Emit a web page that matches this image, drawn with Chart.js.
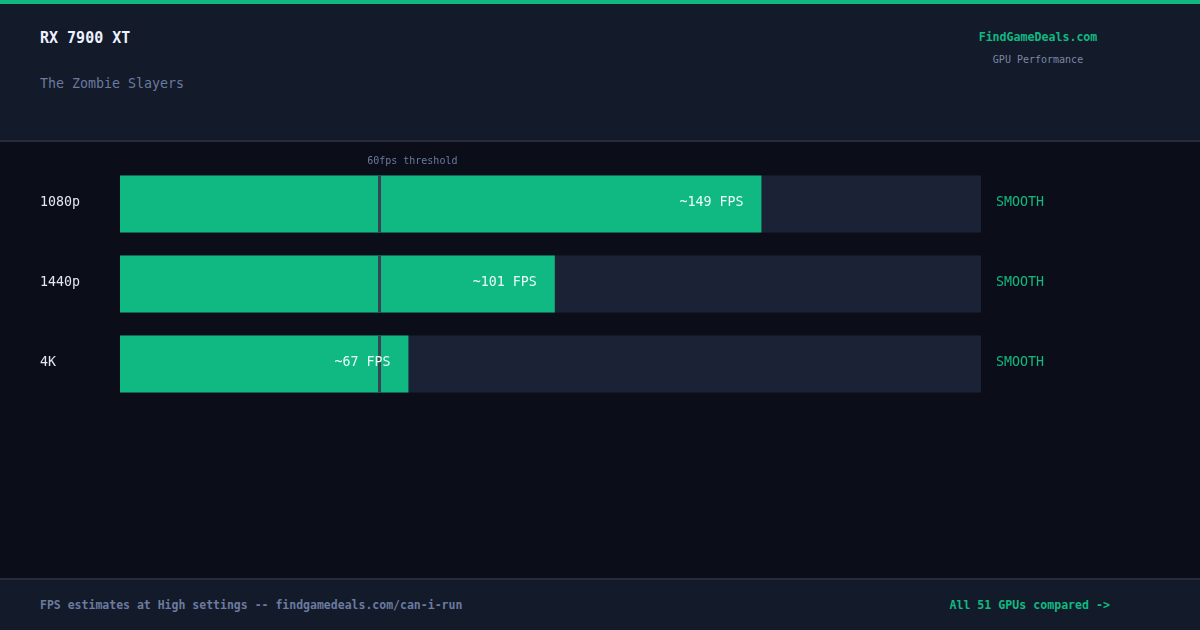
<!DOCTYPE html>
<html>
<head>
<meta charset="utf-8">
<script src="https://cdn.jsdelivr.net/npm/chart.js@4/dist/chart.umd.min.js"></script>
<style>
  html, body { margin: 0; padding: 0; }
  body { width: 1200px; height: 630px; position: relative; overflow: hidden; background: #0b0e18; font-family: "DejaVu Sans Mono", monospace; }
  .stripe { position: absolute; left: 0; top: 0; width: 1200px; height: 4px; background: #10b981; }
  .header { position: absolute; left: 0; top: 4px; width: 1200px; height: 136px; background: #131a2a; border-bottom: 2px solid #252d3d; }
  .footer { position: absolute; left: 0; top: 578px; width: 1200px; height: 50px; background: #131a2a; border-top: 2px solid #252d3d; }
  .t { position: absolute; white-space: nowrap; line-height: 1; }
  #chart { position: absolute; left: 0; top: 0; }
</style>
</head>
<body>
<div class="stripe"></div>
<div class="header"></div>
<div class="footer"></div>
<div class="t" style="left:40px;top:31px;font-size:15px;font-weight:bold;color:#eef2ff;">RX 7900 XT</div>
<div class="t" style="left:40px;top:77px;font-size:13.3px;color:#6b7a9f;">The Zombie Slayers</div>
<div class="t" style="left:938px;width:200px;text-align:center;top:32px;font-size:11.6px;font-weight:bold;color:#10b981;">FindGameDeals.com</div>
<div class="t" style="left:938px;width:200px;text-align:center;top:55px;font-size:10px;color:#7c87a5;">GPU Performance</div>
<div class="t" style="left:40px;top:600px;font-size:11.5px;font-weight:bold;color:#6b7a9f;">FPS estimates at High settings -- findgamedeals.com/can-i-run</div>
<div class="t" style="right:90px;top:600px;font-size:11.6px;font-weight:bold;color:#10b981;">All 51 GPUs compared -&gt;</div>
<canvas id="chart" width="1200" height="630"></canvas>
<script>
const resolutions = ['1080p', '1440p', '4K'];
const fpsValues = [149, 101, 67];
const statusLabels = ['SMOOTH', 'SMOOTH', 'SMOOTH'];
const fpsMax = 200;
const thresholdFps = 60;
const trackValues = resolutions.map(() => fpsMax);

const MONO = '"DejaVu Sans Mono", monospace';

// draws threshold marks, row labels, value labels and statuses
const overlayPlugin = {
  id: 'overlay',
  afterDatasetsDraw(chart) {
    const { ctx, scales: { x, y } } = chart;
    const meta = chart.getDatasetMeta(0);
    const tx = x.getPixelForValue(thresholdFps);
    ctx.save();
    ctx.textBaseline = 'middle';
    meta.data.forEach((bar, i) => {
      const cy = y.getPixelForValue(i);
      const h = bar.height;
      const top = cy - h / 2;
      // threshold line
      ctx.fillStyle = '#394354';
      ctx.fillRect(Math.round(tx), top, 3, h);
      // value label
      ctx.font = '13.3px ' + MONO;
      ctx.fillStyle = '#ecfdf5';
      ctx.textAlign = 'right';
      ctx.fillText('~' + fpsValues[i] + ' FPS', bar.x - 18, cy - 1);
      // row label
      ctx.textAlign = 'left';
      ctx.fillStyle = '#e2e8f0';
      ctx.fillText(resolutions[i], 40, cy - 1);
      // status
      ctx.fillStyle = '#10b981';
      ctx.fillText(statusLabels[i], x.right + 15, cy - 1);
      if (i === 0) {
        ctx.font = '10px ' + MONO;
        ctx.fillStyle = '#6b7a9f';
        ctx.textAlign = 'center';
        ctx.fillText(thresholdFps + 'fps threshold', tx + 34, top - 14);
      }
    });
    ctx.restore();
  }
};

new Chart(document.getElementById('chart'), {
  type: 'bar',
  data: {
    labels: resolutions,
    datasets: [
      { label: 'FPS', data: fpsValues, backgroundColor: '#10b981', grouped: false, barPercentage: 0.7125, categoryPercentage: 1 },
      { label: 'Track', data: trackValues, backgroundColor: '#1b2235', grouped: false, barPercentage: 0.7125, categoryPercentage: 1 }
    ]
  },
  options: {
    indexAxis: 'y',
    responsive: false,
    animation: false,
    devicePixelRatio: 1,
    layout: { padding: { left: 120, right: 219, top: 164, bottom: 226 } },
    plugins: { legend: { display: false }, tooltip: { enabled: false } },
    scales: {
      x: { display: false, min: 0, max: fpsMax },
      y: { display: false }
    }
  },
  plugins: [overlayPlugin]
});
</script>
</body>
</html>
